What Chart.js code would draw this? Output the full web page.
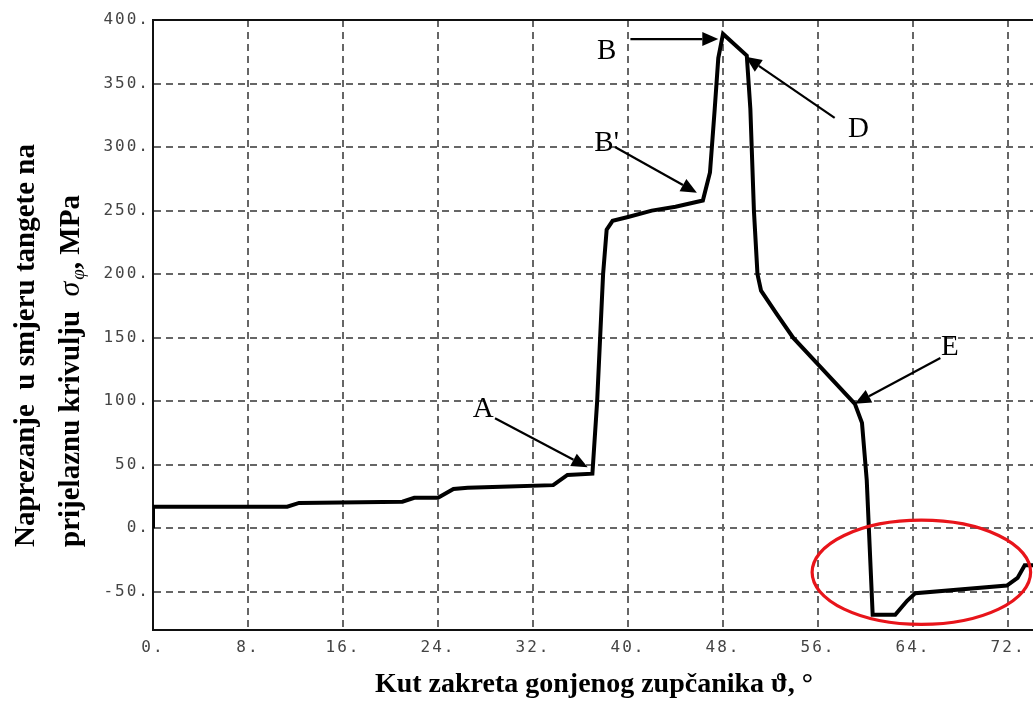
<!DOCTYPE html>
<html>
<head>
<meta charset="utf-8">
<script src="https://cdn.jsdelivr.net/npm/chart.js@4/dist/chart.umd.min.js"></script>
<style>
  html, body { margin: 0; padding: 0; background: #fff; }
</style>
</head>
<body>
<canvas id="graf" width="1033" height="705"></canvas>
<script>
// kut zakreta (stupnjevi) i naprezanje (MPa) ocitano sa slike
var kut = [0, 0, 11.3, 12.3, 21.0, 22.0, 24.0, 25.3, 26.5, 30.0, 33.7, 34.9, 37.0, 37.4, 37.9, 38.2, 38.7,
           40.0, 42.0, 44.0, 46.3, 46.9, 47.3, 47.6, 48.0, 50.0, 50.3, 50.6, 50.9, 51.2, 52.5, 53.9, 55.9,
           59.1, 59.7, 60.1, 60.6, 62.5, 63.5, 64.2, 71.9, 72.8, 73.4, 74.1];
var naprezanje = [0, 17, 17, 20, 21, 24, 24, 31, 32, 33, 34, 42, 43, 100, 200, 235, 242,
                  245, 250, 253, 258, 280, 330, 370, 389, 372, 330, 250, 200, 187, 169, 150, 130,
                  98, 83, 38, -68, -68, -57, -51, -45, -39, -29, -29];

var xTicks = [0, 8, 16, 24, 32, 40, 48, 56, 64, 72];
var yTicks = [-50, 0, 50, 100, 150, 200, 250, 300, 350, 400];

// oznake tocaka: tekst, polozaj teksta, pocetak i vrh strelice (u jedinicama grafa)
var oznake = ['A', 'B', "B'", 'D', 'E'];
var oznakeXY = [[27.8, 93.7], [38.2, 375.6], [38.2, 303], [59.4, 314], [67.1, 142]];
var strelicePocetak = [[28.8, 86.6], [40.2, 385], [38.9, 300], [57.4, 323], [66.3, 134]];
var streliceVrh = [[36.6, 48], [47.6, 385], [45.8, 264], [49.9, 371], [59.1, 98]];

// crvena elipsa: sredina x, y i poluosi
var elipsa = [64.7, -34.6, 9.2, 41];

var tocke = kut.map(function (k, i) { return { x: k, y: naprezanje[i] }; });

function strelica(ctx, x1, y1, x2, y2) {
  var a = Math.atan2(y2 - y1, x2 - x1);
  var L = 16, W = 7;
  ctx.beginPath();
  ctx.moveTo(x1, y1);
  ctx.lineTo(x2 - L * Math.cos(a), y2 - L * Math.sin(a));
  ctx.stroke();
  ctx.beginPath();
  ctx.moveTo(x2, y2);
  ctx.lineTo(x2 - L * Math.cos(a) + W * Math.sin(a), y2 - L * Math.sin(a) - W * Math.cos(a));
  ctx.lineTo(x2 - L * Math.cos(a) - W * Math.sin(a), y2 - L * Math.sin(a) + W * Math.cos(a));
  ctx.closePath();
  ctx.fill();
}

var crtez = {
  id: 'crtez',
  beforeDraw: function (chart) {
    // siroka slova na oznakama osi
    chart.ctx.letterSpacing = '2px';
  },
  afterDatasetsDraw: function (chart) {
    var ctx = chart.ctx, xs = chart.scales.x, ys = chart.scales.y, ca = chart.chartArea;
    ctx.letterSpacing = '0px';
    ctx.save();
    // gornji rub
    ctx.strokeStyle = '#111';
    ctx.lineWidth = 2;
    ctx.beginPath();
    ctx.moveTo(ca.left, ca.top);
    ctx.lineTo(ca.right, ca.top);
    ctx.stroke();

    // strelice i slova
    ctx.strokeStyle = '#000';
    ctx.fillStyle = '#000';
    ctx.lineWidth = 2.2;
    for (var i = 0; i < oznake.length; i++) {
      strelica(ctx,
        xs.getPixelForValue(strelicePocetak[i][0]), ys.getPixelForValue(strelicePocetak[i][1]),
        xs.getPixelForValue(streliceVrh[i][0]), ys.getPixelForValue(streliceVrh[i][1]));
    }
    ctx.font = '29px "Liberation Serif", "Times New Roman", serif';
    ctx.textAlign = 'center';
    ctx.textBaseline = 'middle';
    for (var j = 0; j < oznake.length; j++) {
      ctx.fillText(oznake[j], xs.getPixelForValue(oznakeXY[j][0]), ys.getPixelForValue(oznakeXY[j][1]));
    }

    // elipsa
    var cx = xs.getPixelForValue(elipsa[0]), cy = ys.getPixelForValue(elipsa[1]);
    var rx = Math.abs(xs.getPixelForValue(elipsa[0] + elipsa[2]) - cx);
    var ry = Math.abs(ys.getPixelForValue(elipsa[1] + elipsa[3]) - cy);
    ctx.strokeStyle = '#e8141a';
    ctx.lineWidth = 3.2;
    ctx.beginPath();
    ctx.ellipse(cx, cy, rx, ry, 0, 0, Math.PI * 2);
    ctx.stroke();
    ctx.restore();
  },
  afterDraw: function (chart) {
    var ctx = chart.ctx;
    ctx.save();
    ctx.letterSpacing = '0px';
    ctx.fillStyle = '#000';
    ctx.textBaseline = 'alphabetic';

    // naslov osi x
    ctx.textAlign = 'center';
    ctx.font = 'bold 28px "Liberation Serif", "Times New Roman", serif';
    ctx.fillText('Kut zakreta gonjenog zupčanika ϑ, °', 594, 692);

    // naslov osi y (dva retka)
    ctx.translate(0, 547);
    ctx.rotate(-Math.PI / 2);
    ctx.textAlign = 'left';
    ctx.font = 'bold 29px "Liberation Serif", "Times New Roman", serif';
    ctx.fillText('Naprezanje  u smjeru tangete na', 0, 34);
    var t = 'prijelaznu krivulju  ';
    ctx.fillText(t, 0, 79);
    var w = ctx.measureText(t).width;
    ctx.font = 'italic 30px "Liberation Serif", "Times New Roman", serif';
    ctx.fillText('σ', w, 79);
    w += ctx.measureText('σ').width + 2;
    ctx.font = 'italic 19px "Liberation Serif", "Times New Roman", serif';
    ctx.fillText('φ', w, 84);
    w += ctx.measureText('φ').width;
    ctx.font = 'bold 29px "Liberation Serif", "Times New Roman", serif';
    ctx.fillText(', MPa', w, 79);
    ctx.restore();
  }
};

var tickFont = { family: '"DejaVu Sans Mono", "Liberation Mono", monospace', size: 16 };

new Chart(document.getElementById('graf'), {
  type: 'line',
  data: {
    datasets: [{
      data: tocke,
      borderColor: '#000',
      borderWidth: 4,
      pointRadius: 0,
      tension: 0,
      fill: false
    }]
  },
  options: {
    responsive: false,
    animation: false,
    devicePixelRatio: 1,
    layout: { padding: { top: 20, right: 0, bottom: 0, left: 0 } },
    plugins: { legend: { display: false }, tooltip: { enabled: false } },
    scales: {
      x: {
        type: 'linear',
        min: 0,
        max: 74.1,
        afterBuildTicks: function (s) { s.ticks = xTicks.map(function (v) { return { value: v }; }); },
        afterFit: function (s) { s.height = 75; },
        ticks: {
          color: '#444',
          font: tickFont,
          padding: 8,
          maxRotation: 0,
          autoSkip: false,
          callback: function (v) { return v + '.'; }
        },
        grid: { color: '#666', lineWidth: 2, drawTicks: false },
        border: { display: true, color: '#111', width: 2, dash: [7, 5] }
      },
      y: {
        type: 'linear',
        min: -80,
        max: 400,
        afterBuildTicks: function (s) { s.ticks = yTicks.map(function (v) { return { value: v }; }); },
        afterFit: function (s) { s.width = 153; },
        ticks: {
          color: '#444',
          font: tickFont,
          padding: 3,
          callback: function (v) { return v + '.'; }
        },
        grid: { color: '#666', lineWidth: 2, drawTicks: false },
        border: { display: true, color: '#111', width: 2, dash: [7, 5] }
      }
    }
  },
  plugins: [crtez]
});
</script>
</body>
</html>
